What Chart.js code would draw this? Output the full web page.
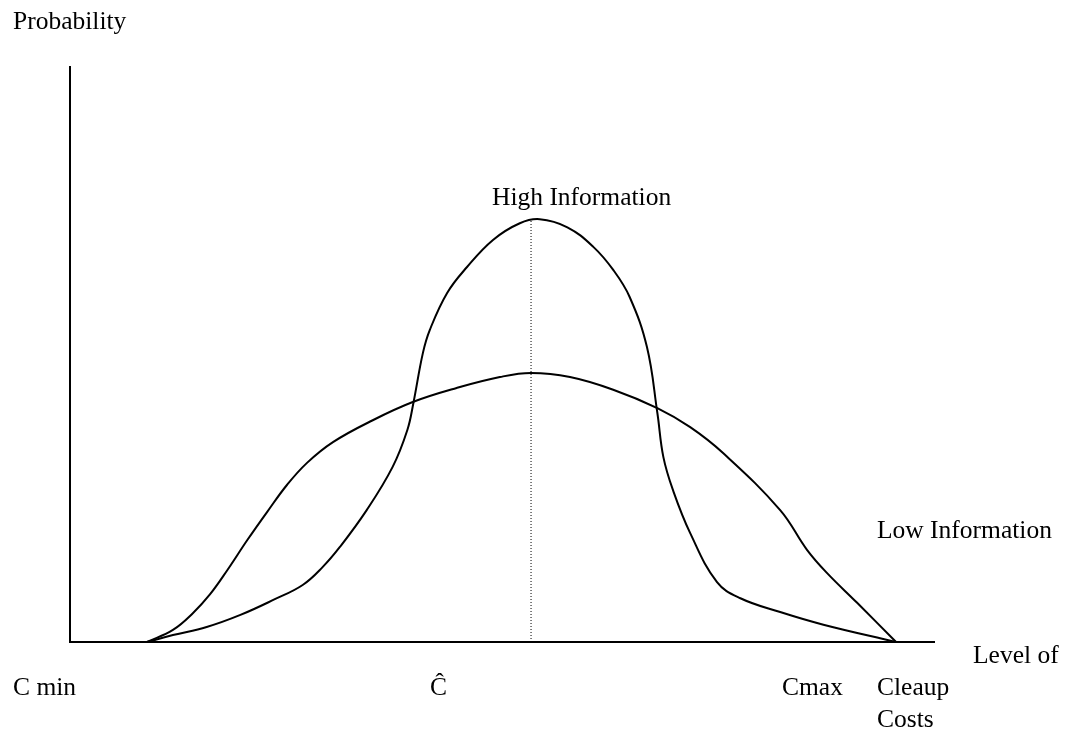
<!DOCTYPE html>
<html>
<head>
<meta charset="utf-8">
<script src="https://cdn.jsdelivr.net/npm/chart.js@4"></script>
<style>
  html, body { margin: 0; padding: 0; background: #fff; }
  #wrap { width: 1072px; height: 734px; }
</style>
</head>
<body>
<div id="wrap"><canvas id="dist"></canvas></div>
<script>
// level of cleanup costs (0..100) vs probability (0..100)
const lowX  = [8.9, 11.9, 14.2, 16.2, 18.2, 20.5, 22.8, 25.1, 27.4, 30.4, 35.0, 39.7, 44.7, 49.7, 53.3, 57.8, 62.8, 67.9, 71.7, 75.5, 82.1, 85.2, 87.5, 91.0, 95.5]
const lowY  = [0, 2.1, 5.0, 8.3, 12.5, 17.7, 22.6, 27.3, 31.1, 34.7, 38.5, 41.7, 44.1, 46.0, 46.7, 46.0, 43.8, 40.6, 37.3, 32.8, 22.9, 16.0, 12.0, 6.8, 0]

const highX = [8.9, 11.9, 15.8, 19.7, 23.5, 26.9, 29.2, 31.2, 34.3, 37.3, 39.0, 39.7, 40.8, 41.6, 43.6, 45.9, 48.9, 52.0, 54.3, 57.5, 60.5, 62.8, 64.7, 66.7, 67.9, 68.6, 69.7, 71.7, 74.8, 77.5, 82.1, 87.1, 95.5]
const highY = [0, 1.2, 2.6, 4.7, 7.3, 9.9, 13.0, 16.5, 22.9, 30.4, 36.8, 41.5, 50.2, 54.2, 60.6, 65.1, 69.8, 72.7, 73.4, 72.0, 68.6, 64.6, 59.9, 51.2, 39.8, 32.1, 26.4, 18.9, 10.4, 7.6, 5.2, 3.0, 0]

const cHat = 53.3
const cHatTop = 73.4

const pts = (xs, ys) => xs.map((x, i) => ({ x: x, y: ys[i] }))

// text placed around the plot (pixel positions on the page)
const notes = [
  { text: 'Probability', x: 13, y: 29 },
  { text: 'High Information', x: 492, y: 205 },
  { text: 'Low Information', x: 877, y: 538 },
  { text: 'Level of', x: 973, y: 663 },
  { text: 'C min', x: 13, y: 695 },
  { text: '\u0108', x: 430, y: 695 },
  { text: 'Cmax', x: 782, y: 695 },
  { text: 'Cleaup', x: 877, y: 695 },
  { text: 'Costs', x: 877, y: 727 }
]

const axesAndText = {
  id: 'axesAndText',
  afterDraw(chart) {
    const ctx = chart.ctx
    const a = chart.chartArea
    ctx.save()
    ctx.strokeStyle = '#000'
    ctx.lineWidth = 2
    ctx.beginPath()
    ctx.moveTo(a.left, a.top)
    ctx.lineTo(a.left, a.bottom)
    ctx.lineTo(a.right, a.bottom)
    ctx.stroke()
    ctx.fillStyle = '#000'
    ctx.font = '25.5px "Liberation Serif", "Times New Roman", serif'
    ctx.textBaseline = 'alphabetic'
    ctx.textAlign = 'left'
    notes.forEach(n => ctx.fillText(n.text, n.x, n.y))
    ctx.restore()
  }
}

const curve = (label, data) => ({
  label: label,
  data: data,
  borderColor: '#000',
  borderWidth: 2,
  pointRadius: 0,
  tension: 0.4,
  fill: false
})

new Chart(document.getElementById('dist'), {
  type: 'line',
  data: {
    datasets: [
      curve('High Information', pts(highX, highY)),
      curve('Low Information', pts(lowX, lowY)),
      {
        label: 'C hat',
        data: [{ x: cHat, y: 0 }, { x: cHat, y: cHatTop }],
        borderColor: '#000',
        borderWidth: 1,
        borderDash: [1, 2],
        pointRadius: 0,
        tension: 0,
        fill: false
      }
    ]
  },
  options: {
    responsive: true,
    maintainAspectRatio: false,
    animation: false,
    layout: { padding: { left: 70, top: 66, right: 137, bottom: 92 } },
    plugins: {
      legend: { display: false },
      tooltip: { enabled: false }
    },
    scales: {
      x: { type: 'linear', min: 0, max: 100, display: false },
      y: { min: 0, max: 100, display: false }
    },
    clip: false
  },
  plugins: [axesAndText]
})
</script>
</body>
</html>
